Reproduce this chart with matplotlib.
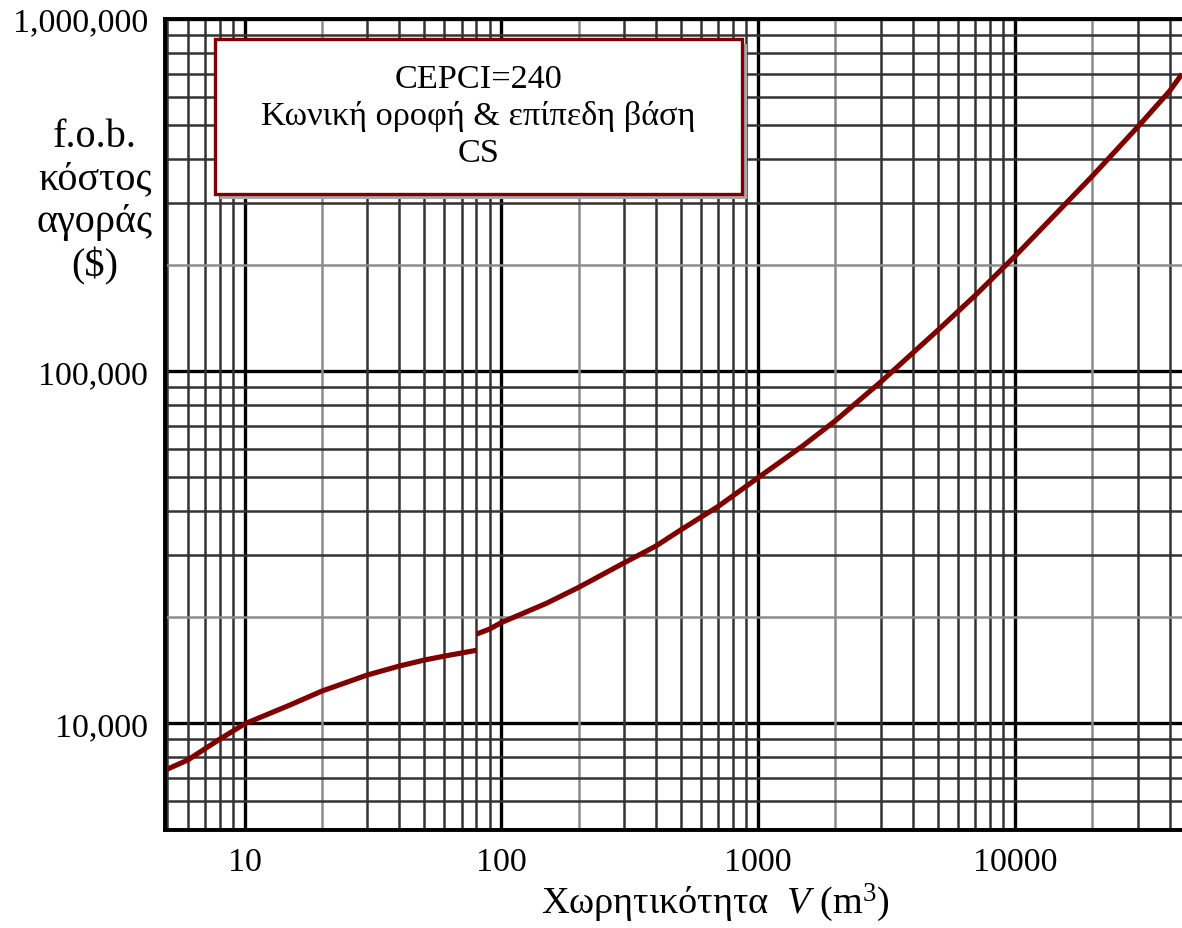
import matplotlib
matplotlib.use("Agg")
import matplotlib.pyplot as plt
import matplotlib.patches as mpatches
from matplotlib.ticker import NullLocator

plt.rcParams['font.family'] = ['Liberation Serif', 'DejaVu Serif']
plt.rcParams['mathtext.fontset'] = 'custom'
plt.rcParams['mathtext.rm'] = 'Liberation Serif'
plt.rcParams['mathtext.it'] = 'Liberation Serif:italic'

# ---- data ----
x_low = [5, 6, 8, 10, 15, 20, 30, 40, 50, 60, 80]
y_low = [7400, 7850, 9000, 9950, 11250, 12330, 13690, 14520, 15100, 15500, 16100]
x_high = [80, 90, 100, 150, 200, 300, 400, 500, 700, 1000, 1500, 2000, 3000,
          5000, 7000, 10000, 20000, 30000, 40000, 44700]
y_high = [17900, 18500, 19300, 21900, 24300, 28500, 31850, 35400, 41300, 49800,
          61500, 72300, 93100, 130500, 164000, 212000, 358000, 493000,
          624000, 698000]
x_ticks = [10, 100, 1000, 10000]
x_tick_labels = ["10", "100", "1000", "10000"]
y_ticks = [10000, 100000, 1000000]
y_tick_labels = ["10,000", "100,000", "1,000,000"]
box_lines = ["CEPCI=240", "Κωνική οροφή & επίπεδη βάση", "CS"]
y_label_lines = ["f.o.b.", "κόστος", "αγοράς", "($)"]
x_label = "Χωρητικότητα  $\\it{V}$ (m$^3$)"

W, H = 1182, 929
fig = plt.figure(figsize=(W / 100, H / 100), dpi=100)
ax = fig.add_axes([165 / W, 1 - 831 / H, (W - 165) / W, (831 - 20) / H])
ax.set_xscale('log')
ax.set_yscale('log')
ax.set_xlim(4.9, 44700)
ax.set_ylim(4970, 1e6)

# minor grid (the "2" lines lighter grey)
for d in range(0, 5):
    for k in range(2, 10):
        v = k * 10 ** d
        if 4.9 < v < 44700:
            ax.axvline(v, color='#8c8c8c' if k == 2 else '#333333',
                       lw=1.8, zorder=1)
for d in range(3, 6):
    for k in range(2, 10):
        v = k * 10 ** d
        if 4970 < v < 1e6:
            ax.axhline(v, color='#8c8c8c' if k == 2 else '#333333',
                       lw=1.8, zorder=1)

ax.set_xticks(x_ticks)
ax.set_xticklabels(x_tick_labels)
ax.set_yticks(y_ticks)
ax.set_yticklabels(y_tick_labels)
ax.xaxis.set_minor_locator(NullLocator())
ax.yaxis.set_minor_locator(NullLocator())
ax.grid(True, which='major', color='black', lw=2.4, zorder=2)
ax.set_axisbelow(True)
ax.tick_params(axis='both', which='both', length=0, labelsize=24.5)
ax.tick_params(axis='x', pad=12)
ax.tick_params(axis='y', pad=12)

for s in ['left', 'top', 'bottom']:
    ax.spines[s].set_linewidth(2.8)
    ax.spines[s].set_color('black')
ax.spines['right'].set_visible(False)

# curve (two segments with a step at 80 m3)
ax.plot(x_low, y_low, color='#800000', lw=3.7, zorder=5, solid_capstyle='butt')
ax.plot(x_high, y_high, color='#800000', lw=3.7, zorder=5, solid_capstyle='butt')

# annotation box with shadow
aw, ah = W - 165, 831 - 20
bx0, by0 = (215 - 165) / aw, (831 - 195) / ah
bw, bh = 527 / aw, 155 / ah
shadow = mpatches.Rectangle((bx0 + 5 / aw, by0 - 5 / ah), bw, bh,
                            transform=ax.transAxes, facecolor='#a8a8a8',
                            edgecolor='none', zorder=6)
rect = mpatches.Rectangle((bx0, by0), bw, bh, transform=ax.transAxes,
                          facecolor='white', edgecolor='#800000', lw=2.4,
                          zorder=7)
ax.add_patch(shadow)
ax.add_patch(rect)
ax.text(bx0 + bw / 2, by0 + bh / 2 + 1 / ah, "\n".join(box_lines),
        transform=ax.transAxes, ha='center', va='center', fontsize=24.7,
        linespacing=1.27, zorder=8)

# y label (horizontal, stacked)
fig.text(95 / W, 1 - 202 / H, "\n".join(y_label_lines), ha='center',
         va='center', fontsize=29, linespacing=1.2)

# x label
fig.text(715 / W, 1 - 903 / H, x_label, ha='center', va='center', fontsize=27.5)

fig.savefig('out.png', dpi=100)
